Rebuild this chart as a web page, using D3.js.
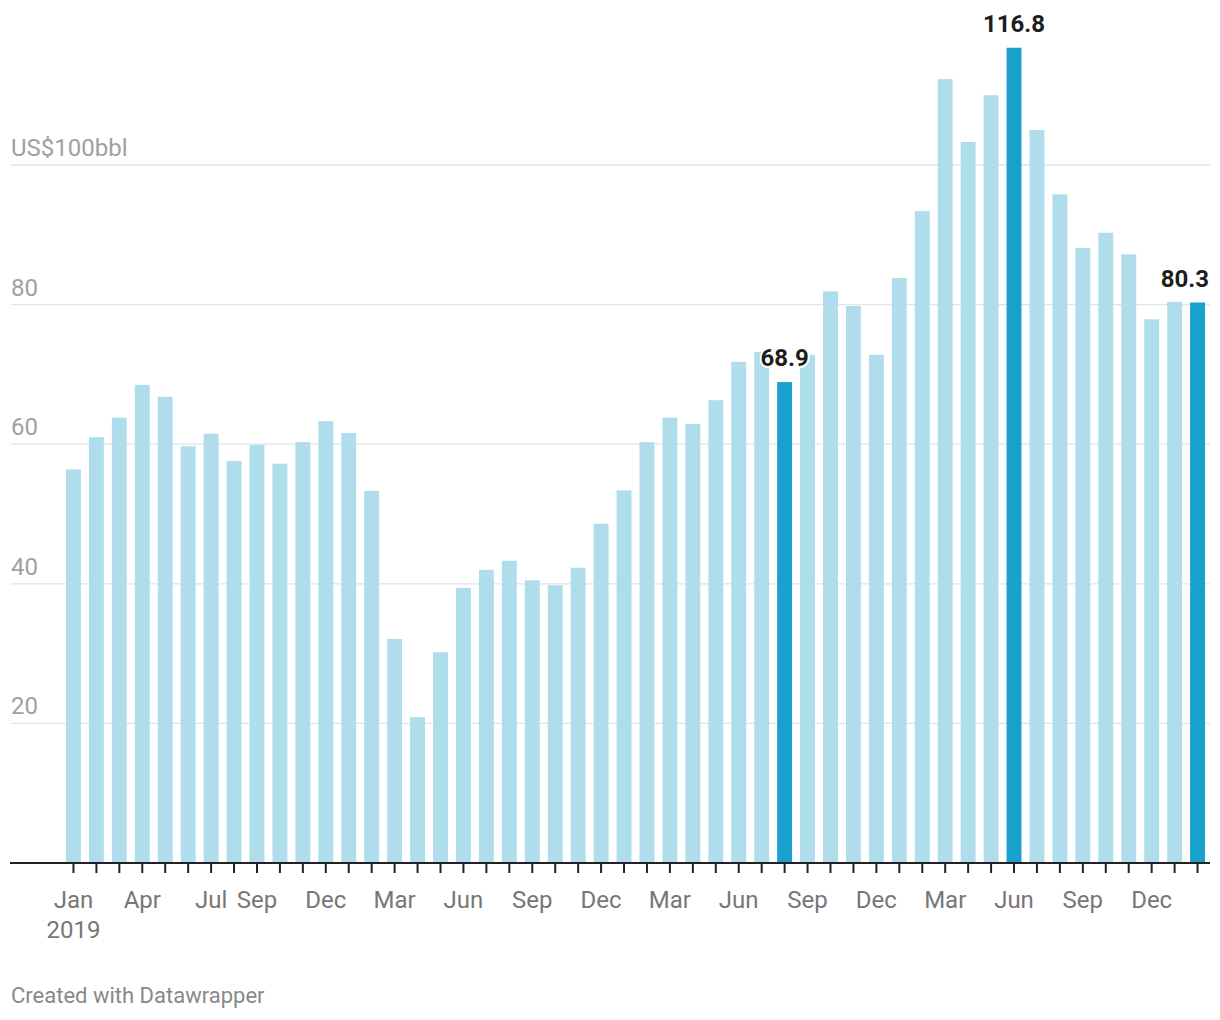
<!DOCTYPE html>
<html>
<head>
<meta charset="utf-8">
<script src="https://cdn.jsdelivr.net/npm/d3@7"></script>
<style>
  html, body { margin: 0; padding: 0; background: #fff; }
  body { width: 1220px; height: 1020px; overflow: hidden; font-family: Roboto, "Noto Sans", sans-serif; }
  svg text { font-family: Roboto, "Noto Sans", sans-serif; }
</style>
</head>
<body>
<svg id="chart" width="1220" height="1020"></svg>
<script>
const months = [
  "2019-01","2019-02","2019-03","2019-04","2019-05","2019-06","2019-07","2019-08","2019-09","2019-10","2019-11","2019-12",
  "2020-01","2020-02","2020-03","2020-04","2020-05","2020-06","2020-07","2020-08","2020-09","2020-10","2020-11","2020-12",
  "2021-01","2021-02","2021-03","2021-04","2021-05","2021-06","2021-07","2021-08","2021-09","2021-10","2021-11","2021-12",
  "2022-01","2022-02","2022-03","2022-04","2022-05","2022-06","2022-07","2022-08","2022-09","2022-10","2022-11","2022-12",
  "2023-01","2023-02"
];
const values = [
  56.4, 61.0, 63.8, 68.5, 66.8, 59.7, 61.5, 57.6, 59.9, 57.2, 60.3, 63.3,
  61.6, 53.3, 32.1, 20.9, 30.2, 39.4, 42.0, 43.3, 40.5, 39.8, 42.3, 48.6,
  53.4, 60.3, 63.8, 62.9, 66.3, 71.8, 73.2, 68.9, 72.8, 81.9, 79.8, 72.8,
  83.8, 93.4, 112.3, 103.3, 110.0, 116.8, 105.0, 95.8, 88.1, 90.3, 87.2, 77.9,
  80.4, 80.3
];
const highlighted = ["2021-08", "2022-06", "2023-02"];
const tickLabels = {
  "2019-01": ["Jan", "2019"], "2019-04": ["Apr"], "2019-07": ["Jul"], "2019-09": ["Sep"], "2019-12": ["Dec"],
  "2020-03": ["Mar"], "2020-06": ["Jun"], "2020-09": ["Sep"], "2020-12": ["Dec"],
  "2021-03": ["Mar"], "2021-06": ["Jun"], "2021-09": ["Sep"], "2021-12": ["Dec"],
  "2022-03": ["Mar"], "2022-06": ["Jun"], "2022-09": ["Sep"], "2022-12": ["Dec"]
};
const yTicks = [20, 40, 60, 80, 100];

const data = months.map((m, i) => ({ m, v: values[i], hi: highlighted.includes(m) }));

const svg = d3.select("#chart");
const x = d3.scaleBand().domain(months).range([66, 1205]).paddingInner(0.35).paddingOuter(0);
const y = d3.scaleLinear().domain([0, 100]).range([863, 165]);

// gridlines
const grid = svg.append("g");
grid.selectAll("line").data(yTicks).join("line")
  .attr("x1", 11).attr("x2", 1210)
  .attr("y1", d => y(d)).attr("y2", d => y(d))
  .attr("stroke", "#e3e3e3").attr("stroke-width", 1.3);
grid.selectAll("text").data(yTicks).join("text")
  .attr("x", 11).attr("y", d => y(d) - 9)
  .attr("fill", "#a0a0a0").attr("font-size", 24)
  .text(d => d === 100 ? "US$100bbl" : d);

// bars
svg.append("g").selectAll("rect").data(data).join("rect")
  .attr("x", d => x(d.m)).attr("width", x.bandwidth())
  .attr("y", d => y(d.v)).attr("height", d => y(0) - y(d.v))
  .attr("fill", d => d.hi ? "#18a1cd" : "#b0ddec");

// x axis
const xAxis = d3.axisBottom(x).tickSize(10).tickSizeOuter(0).tickFormat(() => "");
const ax = svg.append("g").attr("transform", `translate(0,${y(0)})`).call(xAxis);
ax.select(".domain").remove();
ax.selectAll(".tick line").attr("stroke", "#222").attr("stroke-width", 2);
svg.append("line").attr("x1", 10).attr("x2", 1210).attr("y1", y(0)).attr("y2", y(0))
  .attr("stroke", "#222").attr("stroke-width", 2);

const lbl = svg.append("g");
Object.entries(tickLabels).forEach(([m, lines]) => {
  const t = lbl.append("text")
    .attr("x", x(m) + x.bandwidth() / 2).attr("y", y(0) + 45)
    .attr("text-anchor", "middle").attr("fill", "#777").attr("font-size", 24);
  lines.forEach((s, i) => t.append("tspan").attr("x", x(m) + x.bandwidth() / 2).attr("dy", i === 0 ? 0 : 30).text(s));
});

// value labels
const vl = svg.append("g");
data.filter(d => d.hi).forEach(d => {
  const cx = x(d.m) + x.bandwidth() / 2;
  const t = vl.append("text")
    .attr("y", y(d.v) - 16)
    .attr("font-size", 24).attr("font-weight", "bold").attr("fill", "#1d1d1d")
    .attr("stroke", "#fff").attr("stroke-width", 4).attr("paint-order", "stroke")
    .attr("stroke-linejoin", "round")
    .text(d.v.toFixed(1));
  const w = t.node().getComputedTextLength();
  let left = cx - w / 2;
  if (left + w > 1209) left = 1209 - w;
  t.attr("x", left);
});

// footer
svg.append("text").attr("x", 11).attr("y", 1003)
  .attr("fill", "#888").attr("font-size", 22)
  .text("Created with Datawrapper");
</script>
</body>
</html>
